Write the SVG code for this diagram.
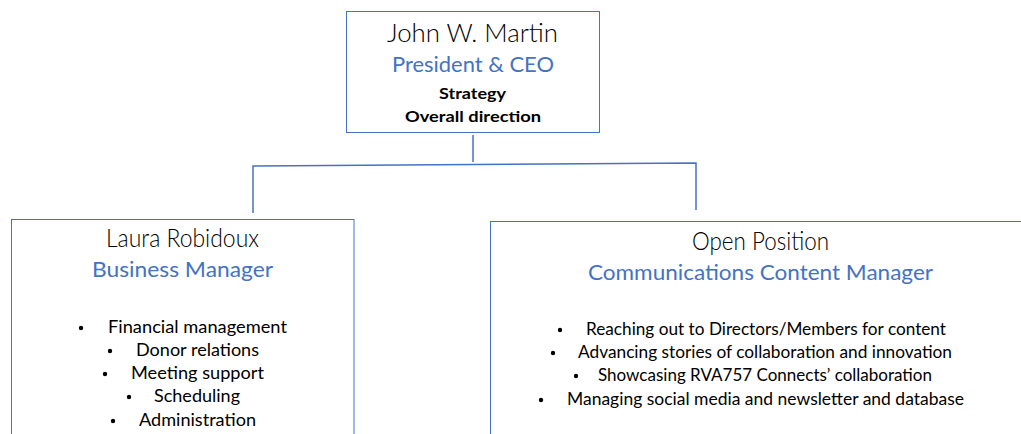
<svg xmlns="http://www.w3.org/2000/svg" width="1021" height="434" viewBox="0 0 1021 434">
<style>
.box{fill:#fff;stroke:#4472C4;stroke-width:1}
.conn{fill:none;stroke:#4472C4;stroke-width:1.5}
text{font-family:Lato,"Open Sans","Liberation Sans",sans-serif;text-anchor:middle}
.name{font-size:25px;font-weight:300;fill:#000}
.title{font-size:22px;font-weight:400;fill:#4472C4}
.b{font-size:16px;font-weight:bold;fill:#000}
.li{font-size:16.5px;fill:#000;text-anchor:start}
.dot{fill:#000}
</style>
<rect width="1021" height="434" fill="#fff"/>
<g id="connectors">
<line class="conn" x1="473" y1="135" x2="473" y2="162"/>
<polyline class="conn" points="253,213 253,166 696,163 696,210"/>
</g>
<g id="ceo">
<rect class="box" x="346.5" y="11.5" width="253" height="121"/>
<text class="name" x="472.5" y="42" textLength="171" lengthAdjust="spacingAndGlyphs">John W. Martin</text>
<text class="title" x="473" y="72" textLength="162" lengthAdjust="spacingAndGlyphs">President &amp; CEO</text>
<text class="b" x="472.5" y="99" textLength="67" lengthAdjust="spacingAndGlyphs">Strategy</text>
<text class="b" x="473" y="122" textLength="136" lengthAdjust="spacingAndGlyphs">Overall direction</text>
</g>
<g id="business-manager">
<rect class="box" x="11.5" y="219.5" width="342.5" height="230"/>
<text class="name" x="182.5" y="247" textLength="153" lengthAdjust="spacingAndGlyphs">Laura Robidoux</text>
<text class="title" x="182.5" y="277" textLength="181" lengthAdjust="spacingAndGlyphs">Business Manager</text>
<circle class="dot" cx="81" cy="328" r="2.2"/>
<text class="li" x="108" y="333" textLength="179" lengthAdjust="spacingAndGlyphs">Financial management</text>
<circle class="dot" cx="110" cy="351" r="2.2"/>
<text class="li" x="136" y="356" textLength="123" lengthAdjust="spacingAndGlyphs">Donor relations</text>
<circle class="dot" cx="105" cy="374" r="2.2"/>
<text class="li" x="131" y="379" textLength="133" lengthAdjust="spacingAndGlyphs">Meeting support</text>
<circle class="dot" cx="129" cy="397" r="2.2"/>
<text class="li" x="154" y="402" textLength="86" lengthAdjust="spacingAndGlyphs">Scheduling</text>
<circle class="dot" cx="113" cy="421" r="2.2"/>
<text class="li" x="139" y="426" textLength="117" lengthAdjust="spacingAndGlyphs">Administration</text>
</g>
<g id="communications-manager">
<rect class="box" x="490.5" y="221.5" width="560" height="230"/>
<text class="name" x="760.5" y="250" textLength="137" lengthAdjust="spacingAndGlyphs">Open Position</text>
<text class="title" x="760.5" y="280" textLength="345" lengthAdjust="spacingAndGlyphs">Communications Content Manager</text>
<circle class="dot" cx="560" cy="330" r="2.2"/>
<text class="li" x="586" y="335" textLength="360" lengthAdjust="spacingAndGlyphs">Reaching out to Directors/Members for content</text>
<circle class="dot" cx="553" cy="353" r="2.2"/>
<text class="li" x="578" y="358" textLength="374" lengthAdjust="spacingAndGlyphs">Advancing stories of collaboration and innovation</text>
<circle class="dot" cx="576" cy="376" r="2.2"/>
<text class="li" x="598" y="381" textLength="334" lengthAdjust="spacingAndGlyphs">Showcasing RVA757 Connects’ collaboration</text>
<circle class="dot" cx="541" cy="400" r="2.2"/>
<text class="li" x="567" y="405" textLength="397" lengthAdjust="spacingAndGlyphs">Managing social media and newsletter and database</text>
</g>
</svg>
